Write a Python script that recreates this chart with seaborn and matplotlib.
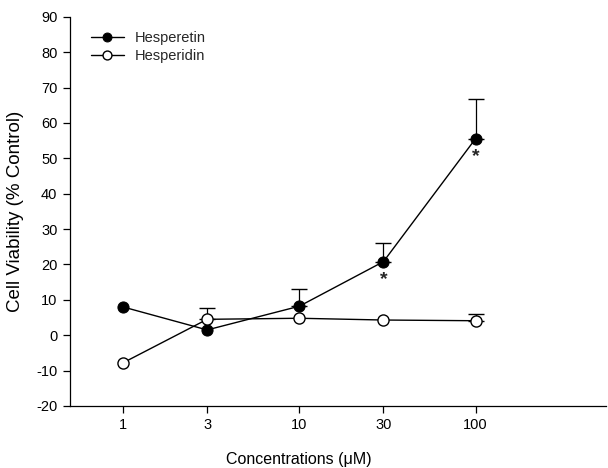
import matplotlib
matplotlib.use("Agg")
import matplotlib.pyplot as plt
import seaborn as sns
import pandas as pd
import numpy as np

concentrations = [1, 3, 10, 30, 100]
hesperetin = [8.0, 1.5, 8.2, 20.8, 55.6]
hesperetin_err = [0.0, 0.0, 4.8, 5.3, 11.3]
hesperidin = [-7.8, 4.5, 4.8, 4.3, 4.1]
hesperidin_err = [0.0, 3.1, 0.0, 0.0, 1.9]
significant = [30, 100]
y_ticks = list(range(-20, 100, 10))
x_tick_labels = ["1", "3", "10", "30", "100"]

sns.set_theme(style="ticks")
plt.rcParams['font.family'] = ['Liberation Sans', 'DejaVu Sans']
plt.rcParams['axes.unicode_minus'] = False

df = pd.DataFrame({
    "conc": concentrations * 2,
    "value": hesperetin + hesperidin,
    "compound": ["Hesperetin"] * 5 + ["Hesperidin"] * 5,
})

fig = plt.figure(figsize=(6.08, 4.68), dpi=100)
ax = fig.add_axes([0.115, 0.1325, 0.882, 0.8315])

# error bars (upper only)
for vals, errs in [(hesperetin, hesperetin_err), (hesperidin, hesperidin_err)]:
    e = np.array(errs)
    mask = e > 0
    ax.errorbar(np.array(concentrations)[mask], np.array(vals)[mask],
                yerr=[np.zeros(mask.sum()), e[mask]], fmt="none",
                ecolor="black", elinewidth=0.9, capsize=6, capthick=1.0, zorder=1)

sns.lineplot(data=df[df.compound == "Hesperetin"], x="conc", y="value", ax=ax,
             color="black", lw=1.0, marker="o", markersize=8,
             markerfacecolor="black", markeredgecolor="black",
             label="Hesperetin", zorder=3)
sns.lineplot(data=df[df.compound == "Hesperidin"], x="conc", y="value", ax=ax,
             color="black", lw=1.0, marker="o", markersize=8,
             markerfacecolor="white", markeredgecolor="black", markeredgewidth=1.0,
             label="Hesperidin", zorder=3)

for c, v in zip(concentrations, hesperetin):
    if c in significant:
        ax.annotate("*", xy=(c, v), xytext=(0, -13), textcoords="offset points",
                    ha="center", va="center", fontsize=14, fontweight="bold")

ax.set_xscale("log")
ax.set_xlim(0.5, 550)
ax.set_ylim(-20, 90)
ax.set_xticks(concentrations)
ax.set_xticklabels(x_tick_labels)
ax.minorticks_off()
ax.set_yticks(y_ticks)
ax.tick_params(axis="both", labelsize=10.5, length=5, width=0.9, color="black",
               labelcolor="black", pad=4)
for s in ["top", "right"]:
    ax.spines[s].set_visible(False)
for s in ["left", "bottom"]:
    ax.spines[s].set_color("black")
    ax.spines[s].set_linewidth(0.9)

ax.set_xlabel("Concentrations (\u03bcM)", fontsize=11.5, color="black")
ax.xaxis.set_label_coords(0.427, -0.118)
ax.set_ylabel("Cell Viability (% Control)", fontsize=13.5, color="black")
ax.yaxis.set_label_coords(-0.085, 0.5)

leg = ax.legend(loc="upper left", bbox_to_anchor=(0.014, 0.998), frameon=False,
                fontsize=10.5, handlelength=2.3, handletextpad=0.7, labelspacing=0.3,
                markerscale=0.8)

fig.savefig("out.png", dpi=100)
